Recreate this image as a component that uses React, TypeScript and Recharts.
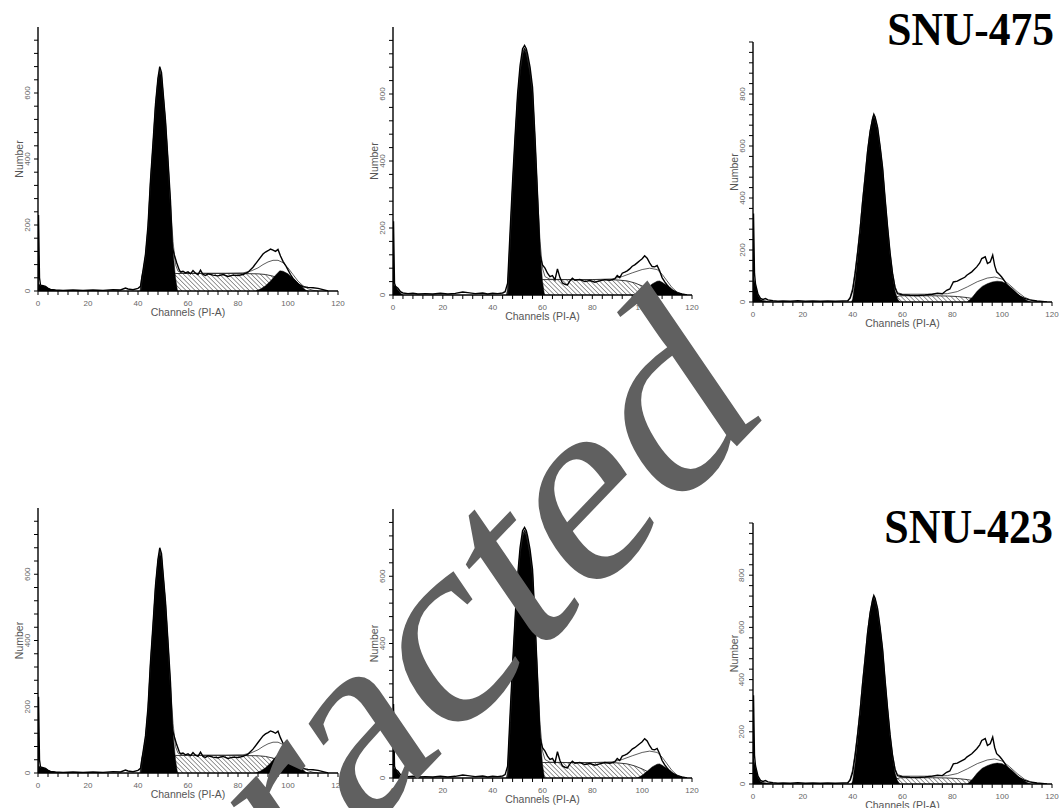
import React from "react";
import { ComposedChart, Area, Line, XAxis, YAxis } from "recharts";

type Pt = [number, number];

// ---- histogram A (top-left / bottom-left) ----
const rawA: Pt[] = [
  [0, 0], [0.2, 230], [0.6, 40], [1, 18], [2, 16], [3, 14], [4, 8], [5, 5], [7, 3], [10, 2],
  [14, 3], [18, 2], [22, 3], [26, 2], [30, 4], [33, 3], [35, 9], [36, 6], [38, 4], [40, 8],
  [41, 14], [42, 62], [43, 112], [44, 198], [45, 336], [46, 448], [47, 566], [48, 646],
  [48.7, 680], [49.4, 662], [50, 606], [51, 516], [52, 396], [53, 272], [53.7, 134],
  [54.5, 110], [55.5, 85], [56.5, 64], [57, 58], [58, 60], [59, 55], [60, 58], [61, 52],
  [62, 62], [63, 54], [64, 50], [65, 63], [66, 50], [67, 47], [68, 52], [70, 48], [72, 46],
  [74, 50], [76, 44], [78, 48], [80, 47], [82, 50], [84, 57], [86, 72], [88, 92], [90, 112],
  [91, 118], [92, 122], [93, 127], [94, 124], [95, 120], [96, 126], [97, 106], [98, 90],
  [99, 78], [100, 64], [101, 50], [102, 38], [104, 22], [106, 13], [108, 11], [110, 10],
  [112, 8], [114, 4], [116, 0],
];
const fitA: Pt[] = [
  [41, 0], [42, 55], [43, 106], [44, 192], [45, 332], [46, 442], [47, 562], [48, 642],
  [48.7, 670], [49.4, 654], [50, 602], [51, 512], [52, 392], [53, 262], [54, 150], [55, 80],
  [56, 60], [58, 54], [65, 54], [75, 54], [82, 55], [85, 60], [88, 70], [90, 80], [92, 88],
  [94, 93], [96, 93], [98, 86], [100, 70], [102, 50], [104, 30], [106, 16], [108, 7],
  [110, 2], [112, 0],
];
const g1A: Pt[] = [
  [40.8, 0], [41.5, 45], [42, 60], [43, 105], [44, 190], [45, 330], [46, 440], [47, 560],
  [48, 640], [48.7, 668], [49.4, 650], [50, 600], [51, 510], [52, 390], [53, 250], [54, 120],
  [55, 40], [55.8, 0],
];
const sA: Pt[] = [
  [47, 0], [50, 20], [53, 45], [55, 53], [60, 53], [70, 53], [80, 53], [88, 52], [91, 50],
  [94, 45], [97, 36], [100, 24], [103, 12], [106, 3], [108, 0],
];
const g2A: Pt[] = [
  [87, 0], [89, 6], [91, 16], [93, 30], [95, 48], [96.7, 61], [98, 60], [100, 52],
  [102, 38], [104, 24], [106, 10], [107.5, 0],
];
const debA: Pt[] = [
  [0, 0], [0.3, 22], [1, 16], [2, 16], [3, 13], [4, 9], [5, 5], [6, 3], [8, 1], [9, 0],
];

// ---- histogram B (top-middle / bottom-middle) ----
const rawB: Pt[] = [
  [0, 0], [0.2, 220], [0.6, 35], [1, 26], [2, 20], [3, 10], [4, 6], [6, 4], [8, 5], [10, 3],
  [13, 4], [16, 3], [19, 5], [22, 3], [25, 5], [28, 9], [30, 7], [33, 4], [36, 6], [38, 3],
  [40, 5], [42, 4], [44, 6], [45, 10], [46, 35], [47, 190], [48, 340], [49, 475], [50, 600],
  [51, 685], [52, 735], [52.8, 745], [53.5, 735], [54, 720], [55, 680], [56, 620], [57, 470],
  [58, 300], [59, 120], [60, 90], [61, 80], [62, 65], [63, 55], [64, 58], [65, 45], [66, 78],
  [67, 52], [68, 36], [69, 32], [70, 30], [71, 42], [72, 50], [73, 44], [75, 46], [77, 40],
  [79, 43], [81, 38], [83, 42], [85, 46], [87, 44], [89, 48], [90, 58], [91, 52], [92, 65],
  [93, 68], [94, 72], [95, 78], [96, 86], [97, 90], [98, 96], [99, 102], [100, 108],
  [101, 117], [102, 110], [103, 96], [104, 85], [105, 84], [106, 88], [107, 72], [108, 52],
  [109, 40], [110, 30], [111, 22], [112, 15], [114, 7], [116, 3], [118, 0],
];
const fitB: Pt[] = [
  [46, 0], [47, 165], [48, 320], [49, 460], [50, 585], [51, 670], [52, 720], [52.8, 732],
  [53.5, 722], [54, 706], [55, 665], [56, 605], [57, 460], [58, 300], [59, 160], [60, 80],
  [61, 55], [63, 47], [70, 46], [80, 46], [88, 48], [92, 55], [96, 66], [100, 76], [103, 80],
  [106, 76], [108, 62], [110, 42], [112, 22], [114, 9], [116, 2], [118, 0],
];
const g1B: Pt[] = [
  [45.5, 0], [46, 20], [47, 170], [48, 325], [49, 465], [50, 590], [51, 675], [52, 725],
  [52.8, 738], [53.5, 728], [54, 712], [55, 670], [56, 610], [57, 460], [58, 290], [59, 140],
  [60, 40], [60.8, 0],
];
const sB: Pt[] = [
  [52, 0], [55, 25], [58, 42], [60, 46], [70, 46], [80, 46], [90, 45], [94, 42], [97, 36],
  [100, 27], [103, 16], [106, 7], [109, 1], [110, 0],
];
const g2B: Pt[] = [
  [98, 0], [100, 8], [102, 20], [104, 33], [106, 41], [107, 42], [108, 38], [110, 28],
  [112, 16], [114, 7], [116, 2], [117, 0],
];
const debB: Pt[] = [[0, 0], [0.3, 30], [1, 26], [2, 16], [3, 6], [4, 0]];

// ---- histogram C (right column) ----
const rawC: Pt[] = [
  [0, 0], [0.2, 340], [0.6, 110], [1, 70], [2, 30], [3, 14], [4, 10], [5, 13], [6, 8], [8, 5],
  [10, 3], [12, 4], [15, 3], [18, 5], [21, 3], [24, 4], [27, 3], [30, 4], [33, 3], [36, 4],
  [38, 5], [39, 15], [40, 45], [41, 110], [42, 190], [43, 280], [44, 385], [45, 480],
  [46, 580], [47, 655], [48, 705], [48.5, 722], [49, 712], [50, 672], [51, 600], [52, 518],
  [53, 400], [54, 290], [55, 190], [56, 110], [57, 55], [58, 32], [60, 28], [63, 26],
  [66, 25], [69, 27], [72, 30], [74, 34], [76, 32], [77.7, 45], [79, 50], [80.4, 77],
  [82, 80], [83.1, 86], [85, 95], [85.8, 103], [87.8, 116], [89.8, 135], [91, 150],
  [91.8, 167], [93.2, 174], [94.1, 148], [95.2, 154], [96.2, 180], [97, 140], [97.8, 116],
  [99, 105], [99.8, 96], [101, 80], [101.9, 64], [103, 50], [104.6, 39], [106, 28],
  [107.2, 22], [109, 14], [111, 8], [112.6, 6], [114, 4], [116, 2], [118, 0],
];
const fitC: Pt[] = [
  [38, 0], [39, 20], [40, 55], [41, 120], [42, 200], [43, 290], [44, 395], [45, 490],
  [46, 585], [47, 658], [48, 708], [48.5, 720], [49, 710], [50, 668], [51, 598], [52, 516],
  [53, 398], [54, 290], [55, 190], [56, 112], [57, 60], [58, 36], [60, 30], [70, 30],
  [78, 32], [82, 40], [86, 58], [90, 78], [94, 92], [97, 96], [100, 88], [103, 66],
  [106, 40], [109, 18], [112, 6], [115, 0],
];
const g1C: Pt[] = [
  [39.5, 0], [40, 12], [41, 80], [42, 170], [43, 265], [44, 370], [45, 470], [46, 570],
  [47, 648], [48, 700], [48.5, 715], [49, 705], [50, 662], [51, 592], [52, 510], [53, 392],
  [54, 282], [55, 180], [56, 100], [57, 42], [58, 12], [59, 0],
];
const sC: Pt[] = [
  [55, 0], [57, 18], [59, 24], [65, 24], [72, 24], [78, 23], [82, 21], [86, 17], [90, 10],
  [93, 4], [95, 0],
];
const g2C: Pt[] = [
  [86, 0], [88, 18], [90, 42], [92, 60], [94, 70], [96, 77], [98, 80], [100, 78],
  [102, 68], [104, 52], [106, 34], [108, 17], [110, 6], [111.5, 0],
];
const debC: Pt[] = [[0, 0], [0.2, 95], [1, 65], [2, 25], [3, 10], [4, 6], [6, 3], [8, 0]];

const xLabels = [0, 20, 40, 60, 80, 100, 120];
const yLabels800 = [0, 200, 400, 600];
const yLabels1000 = [0, 200, 400, 600, 800];

// merge the per-series point lists into one table keyed by channel
const buildTable = (series: Record<string, Pt[]>) => {
  const rows = new Map<number, any>();
  Object.entries(series).forEach(([key, pts]) => {
    pts.forEach(([ch, v]) => {
      const row = rows.get(ch) || { ch };
      row[key] = v;
      rows.set(ch, row);
    });
  });
  return Array.from(rows.values()).sort((a, b) => a.ch - b.ch);
};

const dataA = buildTable({ raw: rawA, fit: fitA, g1: g1A, s: sA, g2: g2A, deb: debA });
const dataB = buildTable({ raw: rawB, fit: fitB, g1: g1B, s: sB, g2: g2B, deb: debB });
const dataC = buildTable({ raw: rawC, fit: fitC, g1: g1C, s: sC, g2: g2C, deb: debC });

const xTicks: number[] = [];
for (let c = 0; c <= 120; c += 4) xTicks.push(c);

const tickFont = "'Liberation Sans', Arial, sans-serif";

const XTick = (props: any) => {
  const { x, y, payload } = props;
  if (!xLabels.includes(payload.value)) return <g />;
  return (
    <text x={x} y={y + 11} textAnchor="middle" fontSize={8} fill="#666" fontFamily={tickFont}>
      {payload.value}
    </text>
  );
};

const makeYTick = (labels: number[]) => (props: any) => {
  const { x, y, payload } = props;
  if (!labels.includes(payload.value)) return <g />;
  const cx = x - 7;
  return (
    <text
      x={cx}
      y={y}
      transform={`rotate(-90 ${cx} ${y})`}
      textAnchor="middle"
      dominantBaseline="central"
      fontSize={8}
      fill="#666"
      fontFamily={tickFont}
    >
      {payload.value}
    </text>
  );
};

const xTitle = (p: any) => {
  const vb = p.viewBox;
  return (
    <text x={vb.x + vb.width / 2} y={vb.y + 25} textAnchor="middle" fontSize={10.5} fill="#555" fontFamily={tickFont}>
      Channels (PI-A)
    </text>
  );
};

const yTitle = (p: any) => {
  const vb = p.viewBox;
  const cx = vb.x + vb.width - 19;
  const cy = vb.y + vb.height / 2;
  return (
    <text
      x={cx}
      y={cy}
      transform={`rotate(-90 ${cx} ${cy})`}
      textAnchor="middle"
      dominantBaseline="central"
      fontSize={10.5}
      fill="#555"
      fontFamily={tickFont}
    >
      Number
    </text>
  );
};

interface PanelProps {
  id: string;
  data: any[];
  yMax: number;
  yLabels: number[];
  left: number;
  top: number;
  plotW: number;
  plotH: number;
}

const Histogram: React.FC<PanelProps> = ({ id, data, yMax, yLabels, left, top, plotW, plotH }) => {
  const yTicks: number[] = [];
  for (let v = 0; v <= yMax; v += 40) if (v < 800 || yMax > 800) yTicks.push(v);
  return (
    <div style={{ position: "absolute", left: left - 40, top: top - 10 }}>
      <ComposedChart
        width={plotW + 60}
        height={plotH + 44}
        data={data}
        margin={{ top: 10, right: 20, bottom: 0, left: 0 }}
      >
        <defs>
          <pattern id={`hatch-${id}`} patternUnits="userSpaceOnUse" width={3.2} height={3.2} patternTransform="rotate(-45)">
            <line x1={0} y1={0} x2={0} y2={3.2} stroke="#333" strokeWidth={1} />
          </pattern>
        </defs>
        <XAxis
          dataKey="ch"
          type="number"
          domain={[0, 120]}
          ticks={xTicks}
          interval={0}
          allowDataOverflow
          height={34}
          tickSize={4}
          tickMargin={0}
          tick={XTick}
          tickLine={{ stroke: "#000", strokeWidth: 1 }}
          axisLine={{ stroke: "#000", strokeWidth: 1.4 }}
          label={{ content: xTitle }}
        />
        <YAxis
          type="number"
          domain={[0, yMax]}
          ticks={yTicks}
          interval={0}
          allowDataOverflow
          width={40}
          tickSize={4}
          tickMargin={0}
          tick={makeYTick(yLabels)}
          tickLine={{ stroke: "#000", strokeWidth: 1 }}
          axisLine={{ stroke: "#000", strokeWidth: 1.4 }}
          label={{ content: yTitle }}
        />
        <Area type="linear" dataKey="s" connectNulls fill={`url(#hatch-${id})`} fillOpacity={1} stroke="#222" strokeWidth={0.9} dot={false} activeDot={false} isAnimationActive={false} />
        <Area type="linear" dataKey="g1" connectNulls fill="#000" fillOpacity={1} stroke="#000" strokeWidth={0.5} dot={false} activeDot={false} isAnimationActive={false} />
        <Area type="linear" dataKey="g2" connectNulls fill="#000" fillOpacity={1} stroke="#000" strokeWidth={0.5} dot={false} activeDot={false} isAnimationActive={false} />
        <Area type="linear" dataKey="deb" connectNulls fill="#000" fillOpacity={1} stroke="#000" strokeWidth={0.5} dot={false} activeDot={false} isAnimationActive={false} />
        <Line type="linear" dataKey="fit" connectNulls stroke="#333" strokeWidth={0.8} dot={false} activeDot={false} isAnimationActive={false} />
        <Line type="linear" dataKey="raw" connectNulls stroke="#000" strokeWidth={1.4} dot={false} activeDot={false} isAnimationActive={false} />
      </ComposedChart>
    </div>
  );
};

const serif = "'Liberation Serif', 'Times New Roman', serif";

export default function App() {
  return (
    <div
      style={{
        position: "absolute",
        left: 0,
        top: 0,
        width: 1059,
        height: 808,
        overflow: "hidden",
        background: "#fff",
        fontFamily: tickFont,
      }}
    >
      <Histogram id="p1" data={dataA} yMax={800} yLabels={yLabels800} left={38} top={27} plotW={300} plotH={264} />
      <Histogram id="p2" data={dataB} yMax={800} yLabels={yLabels800} left={393} top={27} plotW={299} plotH={268} />
      <Histogram id="p3" data={dataC} yMax={1000} yLabels={yLabels1000} left={753} top={42} plotW={299} plotH={260} />
      <Histogram id="p4" data={dataA} yMax={800} yLabels={yLabels800} left={38} top={508} plotW={300} plotH={265} />
      <Histogram id="p5" data={dataB} yMax={800} yLabels={yLabels800} left={393} top={509} plotW={299} plotH={269} />
      <Histogram id="p6" data={dataC} yMax={1000} yLabels={yLabels1000} left={753} top={523} plotW={299} plotH={261} />
      <svg
        width={1059}
        height={808}
        style={{ position: "absolute", left: 0, top: 0, pointerEvents: "none" }}
      >
        <text x={0} y={0} transform="translate(1054 45) scale(1 1.06)" textAnchor="end" fontFamily={serif} fontWeight="bold" fontSize={43.5}>
          SNU-475
        </text>
        <text x={0} y={0} transform="translate(1053 543) scale(1 1.12)" textAnchor="end" fontFamily={serif} fontWeight="bold" fontSize={44}>
          SNU-423
        </text>
        <text
          x={0}
          y={0}
          transform="matrix(0.693 -0.722 0.538 0.787 764 418)"
          textAnchor="end"
          fontFamily={serif}
          fontSize={277}
          fill="#606060"
        >
          Retracted
        </text>
      </svg>
    </div>
  );
}
